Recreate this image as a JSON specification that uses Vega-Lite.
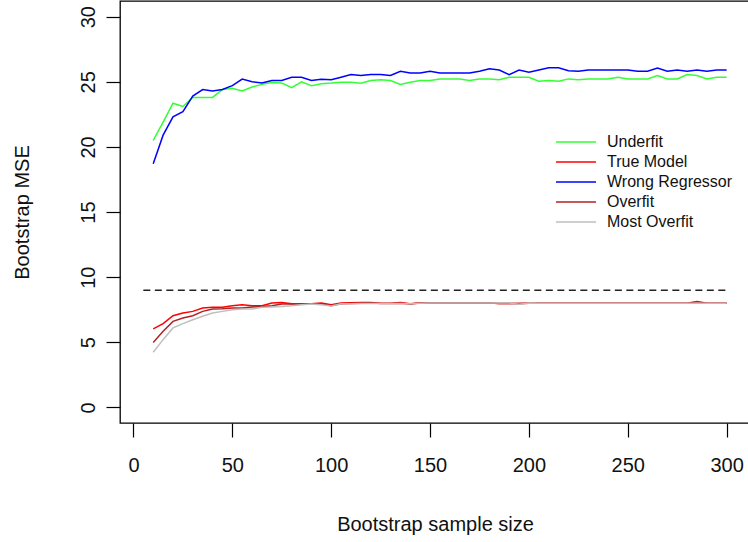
{
  "$schema": "https://vega.github.io/schema/vega-lite/v6.json",
  "width": 630,
  "height": 422,
  "autosize": {"type": "none"},
  "padding": {"left": 120, "top": 1, "right": 0, "bottom": 119},
  "background": "white",
  "config": {
    "view": {"stroke": "#000", "strokeWidth": 1.3},
    "font": "Liberation Sans",
    "axis": {
      "grid": false, "domain": false,
      "tickColor": "#000", "tickSize": 14, "tickWidth": 1.2,
      "labelFont": "Liberation Sans", "labelFontSize": 20, "labelColor": "#111",
      "titleFont": "Liberation Sans", "titleFontSize": 20, "titleFontWeight": "normal", "titleColor": "#111"
    },
    "legend": {"labelFont": "Liberation Sans"}
  },
  "layer": [
    {
      "data": {"values": [
        {"n":10,"Underfit":20.5,"True Model":6.02,"Wrong Regressor":18.7,"Overfit":4.99,"Most Overfit":4.23},
        {"n":15,"Underfit":21.9,"True Model":6.43,"Wrong Regressor":20.9,"Overfit":5.84,"Most Overfit":5.2},
        {"n":20,"Underfit":23.35,"True Model":7.04,"Wrong Regressor":22.3,"Overfit":6.6,"Most Overfit":6.1},
        {"n":25,"Underfit":23.1,"True Model":7.24,"Wrong Regressor":22.7,"Overfit":6.86,"Most Overfit":6.43},
        {"n":30,"Underfit":23.8,"True Model":7.37,"Wrong Regressor":23.9,"Overfit":7.04,"Most Overfit":6.73},
        {"n":35,"Underfit":23.8,"True Model":7.63,"Wrong Regressor":24.4,"Overfit":7.37,"Most Overfit":6.99},
        {"n":40,"Underfit":23.8,"True Model":7.68,"Wrong Regressor":24.3,"Overfit":7.55,"Most Overfit":7.24},
        {"n":45,"Underfit":24.4,"True Model":7.68,"Wrong Regressor":24.4,"Overfit":7.57,"Most Overfit":7.37},
        {"n":50,"Underfit":24.5,"True Model":7.8,"Wrong Regressor":24.7,"Overfit":7.63,"Most Overfit":7.5},
        {"n":55,"Underfit":24.3,"True Model":7.88,"Wrong Regressor":25.2,"Overfit":7.63,"Most Overfit":7.55},
        {"n":60,"Underfit":24.6,"True Model":7.8,"Wrong Regressor":25.0,"Overfit":7.7,"Most Overfit":7.55},
        {"n":65,"Underfit":24.8,"True Model":7.8,"Wrong Regressor":24.9,"Overfit":7.75,"Most Overfit":7.68},
        {"n":70,"Underfit":24.95,"True Model":8.01,"Wrong Regressor":25.1,"Overfit":7.8,"Most Overfit":7.7},
        {"n":75,"Underfit":24.9,"True Model":8.06,"Wrong Regressor":25.1,"Overfit":7.93,"Most Overfit":7.75},
        {"n":80,"Underfit":24.55,"True Model":7.96,"Wrong Regressor":25.35,"Overfit":7.96,"Most Overfit":7.8},
        {"n":85,"Underfit":25.0,"True Model":7.96,"Wrong Regressor":25.35,"Overfit":7.93,"Most Overfit":7.88},
        {"n":90,"Underfit":24.7,"True Model":7.96,"Wrong Regressor":25.1,"Overfit":7.93,"Most Overfit":7.93},
        {"n":95,"Underfit":24.85,"True Model":8.01,"Wrong Regressor":25.2,"Overfit":7.96,"Most Overfit":7.88},
        {"n":100,"Underfit":24.9,"True Model":7.88,"Wrong Regressor":25.15,"Overfit":7.8,"Most Overfit":7.78},
        {"n":105,"Underfit":24.97,"True Model":8.01,"Wrong Regressor":25.35,"Overfit":7.96,"Most Overfit":7.96},
        {"n":110,"Underfit":24.97,"True Model":8.03,"Wrong Regressor":25.55,"Overfit":7.98,"Most Overfit":7.96},
        {"n":115,"Underfit":24.89,"True Model":8.06,"Wrong Regressor":25.48,"Overfit":8.0,"Most Overfit":7.98},
        {"n":120,"Underfit":25.1,"True Model":8.06,"Wrong Regressor":25.55,"Overfit":8.03,"Most Overfit":7.98},
        {"n":125,"Underfit":25.15,"True Model":8.0,"Wrong Regressor":25.55,"Overfit":7.98,"Most Overfit":7.98},
        {"n":130,"Underfit":25.1,"True Model":8.0,"Wrong Regressor":25.48,"Overfit":7.98,"Most Overfit":7.98},
        {"n":135,"Underfit":24.8,"True Model":8.06,"Wrong Regressor":25.8,"Overfit":8.0,"Most Overfit":7.98},
        {"n":140,"Underfit":24.97,"True Model":7.95,"Wrong Regressor":25.68,"Overfit":7.93,"Most Overfit":7.95},
        {"n":145,"Underfit":25.1,"True Model":8.04,"Wrong Regressor":25.68,"Overfit":8.02,"Most Overfit":8.0},
        {"n":150,"Underfit":25.1,"True Model":8.04,"Wrong Regressor":25.8,"Overfit":8.02,"Most Overfit":8.02},
        {"n":155,"Underfit":25.22,"True Model":8.04,"Wrong Regressor":25.68,"Overfit":8.02,"Most Overfit":8.02},
        {"n":160,"Underfit":25.22,"True Model":8.02,"Wrong Regressor":25.68,"Overfit":8.02,"Most Overfit":8.02},
        {"n":165,"Underfit":25.22,"True Model":8.02,"Wrong Regressor":25.68,"Overfit":8.02,"Most Overfit":8.02},
        {"n":170,"Underfit":25.1,"True Model":8.02,"Wrong Regressor":25.68,"Overfit":8.02,"Most Overfit":8.02},
        {"n":175,"Underfit":25.22,"True Model":8.02,"Wrong Regressor":25.8,"Overfit":8.02,"Most Overfit":8.02},
        {"n":180,"Underfit":25.22,"True Model":8.02,"Wrong Regressor":25.99,"Overfit":8.02,"Most Overfit":8.02},
        {"n":185,"Underfit":25.15,"True Model":7.98,"Wrong Regressor":25.9,"Overfit":7.98,"Most Overfit":8.02},
        {"n":190,"Underfit":25.35,"True Model":7.98,"Wrong Regressor":25.55,"Overfit":7.98,"Most Overfit":8.02},
        {"n":195,"Underfit":25.35,"True Model":7.98,"Wrong Regressor":25.9,"Overfit":7.98,"Most Overfit":7.92},
        {"n":200,"Underfit":25.35,"True Model":8.0,"Wrong Regressor":25.73,"Overfit":8.0,"Most Overfit":8.02},
        {"n":205,"Underfit":25.04,"True Model":8.0,"Wrong Regressor":25.9,"Overfit":8.0,"Most Overfit":8.0},
        {"n":210,"Underfit":25.1,"True Model":8.0,"Wrong Regressor":26.07,"Overfit":8.0,"Most Overfit":8.0},
        {"n":215,"Underfit":25.04,"True Model":8.0,"Wrong Regressor":26.07,"Overfit":8.0,"Most Overfit":8.0},
        {"n":220,"Underfit":25.22,"True Model":8.0,"Wrong Regressor":25.85,"Overfit":8.0,"Most Overfit":8.0},
        {"n":225,"Underfit":25.15,"True Model":8.0,"Wrong Regressor":25.8,"Overfit":8.0,"Most Overfit":8.0},
        {"n":230,"Underfit":25.22,"True Model":8.0,"Wrong Regressor":25.9,"Overfit":8.0,"Most Overfit":8.0},
        {"n":235,"Underfit":25.22,"True Model":8.0,"Wrong Regressor":25.9,"Overfit":8.0,"Most Overfit":8.0},
        {"n":240,"Underfit":25.22,"True Model":8.0,"Wrong Regressor":25.9,"Overfit":8.0,"Most Overfit":8.0},
        {"n":245,"Underfit":25.35,"True Model":8.0,"Wrong Regressor":25.9,"Overfit":8.0,"Most Overfit":8.0},
        {"n":250,"Underfit":25.22,"True Model":8.0,"Wrong Regressor":25.9,"Overfit":8.0,"Most Overfit":8.0},
        {"n":255,"Underfit":25.22,"True Model":8.0,"Wrong Regressor":25.8,"Overfit":8.0,"Most Overfit":8.0},
        {"n":260,"Underfit":25.22,"True Model":8.0,"Wrong Regressor":25.8,"Overfit":8.0,"Most Overfit":8.0},
        {"n":265,"Underfit":25.48,"True Model":8.0,"Wrong Regressor":26.05,"Overfit":8.0,"Most Overfit":8.0},
        {"n":270,"Underfit":25.22,"True Model":8.0,"Wrong Regressor":25.8,"Overfit":8.0,"Most Overfit":8.0},
        {"n":275,"Underfit":25.22,"True Model":8.0,"Wrong Regressor":25.9,"Overfit":8.0,"Most Overfit":8.0},
        {"n":280,"Underfit":25.55,"True Model":8.0,"Wrong Regressor":25.8,"Overfit":8.0,"Most Overfit":8.0},
        {"n":285,"Underfit":25.48,"True Model":8.13,"Wrong Regressor":25.9,"Overfit":8.0,"Most Overfit":8.0},
        {"n":290,"Underfit":25.22,"True Model":8.0,"Wrong Regressor":25.8,"Overfit":8.0,"Most Overfit":8.0},
        {"n":295,"Underfit":25.35,"True Model":8.0,"Wrong Regressor":25.9,"Overfit":8.0,"Most Overfit":8.0},
        {"n":300,"Underfit":25.35,"True Model":8.0,"Wrong Regressor":25.9,"Overfit":8.0,"Most Overfit":8.0}
      ]},
      "transform": [{"fold": ["Underfit", "True Model", "Wrong Regressor", "Overfit", "Most Overfit"], "as": ["model", "mse"]}],
      "mark": {"type": "line", "strokeWidth": 1.5},
      "encoding": {
        "x": {
          "field": "n", "type": "quantitative",
          "scale": {"domain": [-6.8, 311.8], "nice": false, "zero": false},
          "axis": {"values": [0, 50, 100, 150, 200, 250, 300], "title": "Bootstrap sample size",
                   "labelPadding": 18, "titleX": 315, "titleY": 101, "titleBaseline": "middle", "titleAlign": "center"}
        },
        "y": {
          "field": "mse", "type": "quantitative",
          "scale": {"domain": [-1.2, 31.2], "nice": false, "zero": false},
          "axis": {"values": [0, 5, 10, 15, 20, 25, 30], "title": "Bootstrap MSE",
                   "labelAngle": 270, "labelAlign": "center", "labelBaseline": "bottom", "labelPadding": 8,
                   "titleX": -98, "titleY": 211, "titleAngle": 270, "titleBaseline": "middle", "titleAlign": "center"}
        },
        "color": {
          "field": "model", "type": "nominal",
          "scale": {"domain": ["Underfit", "True Model", "Wrong Regressor", "Overfit", "Most Overfit"],
                    "range": ["#33ff33", "#ff0000", "#0000ff", "#b22222", "#bebebe"]},
          "legend": {"orient": "none", "legendX": 435, "legendY": 131, "title": null,
                     "symbolType": "stroke", "symbolSize": 1600, "symbolStrokeWidth": 1.5,
                     "clipHeight": 20, "rowPadding": 0,
                     "labelFontSize": 16, "labelColor": "#111", "labelOffset": 10}
        }
      }
    },
    {
      "data": {"values": [{"n": 5, "mse": 9}, {"n": 300, "mse": 9}]},
      "mark": {"type": "line", "strokeDash": [7, 4.5], "color": "#222", "strokeWidth": 1.5},
      "encoding": {
        "x": {"field": "n", "type": "quantitative"},
        "y": {"field": "mse", "type": "quantitative"}
      }
    }
  ]
}
